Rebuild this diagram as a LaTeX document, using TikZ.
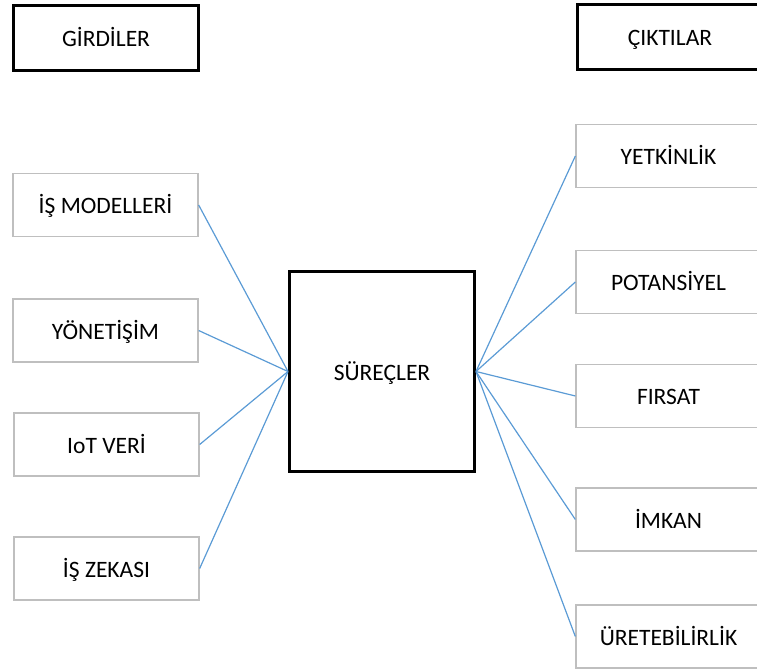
\documentclass[tikz,border=0pt]{standalone}
\usepackage{fontspec}
\setmainfont{Carlito}
\definecolor{linkblue}{HTML}{5B9BD5}
\definecolor{boxgray}{HTML}{BFBFBF}
\begin{document}
\begin{tikzpicture}[x=1pt,y=-1pt,
  every node/.style={font=\fontsize{23.5}{28}\selectfont, inner sep=0pt, text height=17.5pt, text depth=0pt},
  headbox/.style={draw=black, line width=3pt, fill=white, minimum width=185pt, minimum height=64pt},
  itembox/.style={draw=boxgray, line width=1.3pt, fill=white, minimum width=185pt, minimum height=63pt},
  corebox/.style={draw=black, line width=3pt, fill=white, minimum width=185pt, minimum height=200pt},
  link/.style={draw=linkblue, line width=1.2pt}]
  \useasboundingbox (0,0) rectangle (757,669);
  \clip (0,0) rectangle (757,669);

  % column headings
  \node[headbox] (girdi) at (106,38) {GİRDİLER};
  \node[headbox] (cikti) at (670,37) {ÇIKTILAR};

  % central process
  \node[corebox] (surec) at (382,371.5) {SÜREÇLER};

  % inputs
  \node[itembox] (ismodel) at (105.5,205) {İŞ MODELLERİ};
  \node[itembox] (yonetim) at (105.5,330.5) {YÖNETİŞİM};
  \node[itembox] (iotveri) at (106.5,444.5) {IoT VERİ};
  \node[itembox] (iszeka) at (106.5,568.5) {İŞ ZEKASI};

  % outputs
  \node[itembox] (yetkin) at (668.5,156) {YETKİNLİK};
  \node[itembox] (potans) at (668.5,282) {POTANSİYEL};
  \node[itembox] (firsat) at (668.5,396) {FIRSAT};
  \node[itembox] (imkan) at (668.5,519.5) {İMKAN};
  \node[itembox] (uretim) at (668.5,636.5) {ÜRETEBİLİRLİK};

  % connectors
  \foreach \n in {ismodel,yonetim,iotveri,iszeka}
    \draw[link] (\n.east) -- (surec.west);
  \foreach \n in {yetkin,potans,firsat,imkan,uretim}
    \draw[link] (surec.east) -- (\n.west);
\end{tikzpicture}
\end{document}
